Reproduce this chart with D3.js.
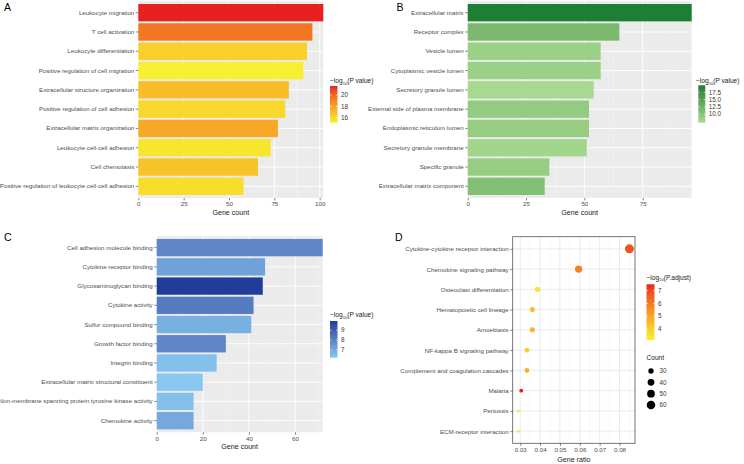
<!DOCTYPE html>
<html><head><meta charset="utf-8">
<script src="https://cdn.jsdelivr.net/npm/d3@7"></script>
<style>html,body{margin:0;padding:0;background:#fff}svg{display:block}text{font-family:"Liberation Sans",Arial,Helvetica,sans-serif}</style>
</head><body>
<svg id="chart" width="744" height="464"></svg>
<script>
// ---- Panel A: GO biological process ----
const bpTerms = ["Leukocyte migration","T cell activation","Leukocyte differentiation","Positive regulation of cell migration","Extracellular structure organization","Positive regulation of cell adhesion","Extracellular matrix organization","Leukocyte cell-cell adhesion","Cell chemotaxis","Positive regulation of leukocyte cell-cell adhesion"];
const bpCount = [102,96,93,91,83,81,77,73,66,58];
const bpLogP = [21.6,19.5,16.3,15.1,17.0,16.0,17.8,15.5,16.8,15.8];
const bpTicks = [0,25,50,75,100];
const bpLegendTicks = [16,18,20];

// ---- Panel B: GO cellular component ----
const ccTerms = ["Extracellular matrix","Receptor complex","Vesicle lumen","Cytoplasmic vesicle lumen","Secretory granule lumen","External side of plasma membrane","Endoplasmic reticulum lumen","Secretory granule membrane","Specific granule","Extracellular matrix component"];
const ccCount = [96,65,57,57,54,52,52,51,35,33];
const ccLogP = [19.9,11.5,8.3,8.3,7.1,9.0,8.8,7.5,8.8,10.8];
const ccTicks = [0,25,50,75];
const ccLegendTicks = [10,12.5,15,17.5];

// ---- Panel C: GO molecular function ----
const mfTerms = ["Cell adhesion molecule binding","Cytokine receptor binding","Glycosaminoglycan binding","Cytokine activity","Sulfur compound binding","Growth factor binding","Integrin binding","Extracellular matrix structural constituent","Non-membrane spanning protein tyrosine kinase activity","Chemokine activity"];
const mfCount = [72,47,46,42,41,30,26,20,16,16];
const mfLogP = [7.9,7.2,9.95,8.2,6.8,7.9,6.4,6.2,6.4,7.0];
const mfTicks = [0,20,40,60];
const mfLegendTicks = [7,8,9];

// ---- Panel D: KEGG ----
const keggTerms = ["Cytokine-cytokine receptor interaction","Chemokine signaling pathway","Osteoclast differentiation","Hematopoietic cell lineage","Amoebiasis","NF-kappa B signaling pathway","Complement and coagulation cascades","Malaria","Pertussis","ECM-receptor interaction"];
const keggRatio = [0.085,0.0594,0.0387,0.0361,0.0361,0.0334,0.0334,0.0305,0.029,0.029];
const keggCount = [66,46,30,28,28,26,26,24,23,23];
const keggLogPadj = [6.8,5.8,3.4,4.4,4.6,4.0,4.8,7.5,3.3,3.14];
const keggTicks = [0.03,0.04,0.05,0.06,0.07,0.08];
const keggLegendTicks = [4,5,6,7];
const keggSizeTicks = [30,40,50,60];

const svg = d3.select("#chart");
const FONT_Y = 6.2, FONT_X = 6.2, FONT_T = 7.1, FONT_L = 6.6;

function legendTitle(g, x, y, label) {
  const t = g.append("text").attr("x", x).attr("y", y).attr("font-size", FONT_L).attr("fill", "#1a1a1a");
  t.append("tspan").text("\u2212log");
  t.append("tspan").text("10").attr("font-size", FONT_L * 0.62).attr("dy", 1.6);
  t.append("tspan").text(label).attr("dy", -1.6);
}

function colorLegend(g, cfg, colorScale, domain, ticks) {
  legendTitle(g, cfg.lx, cfg.ly, cfg.title);
  const id = "grad" + cfg.name;
  const grad = svg.append("defs").append("linearGradient").attr("id", id)
    .attr("x1", 0).attr("y1", 1).attr("x2", 0).attr("y2", 0);
  d3.range(0, 1.0001, 0.05).forEach(t => {
    grad.append("stop").attr("offset", t).attr("stop-color", colorScale(domain[0] + t * (domain[1] - domain[0])));
  });
  g.append("rect").attr("x", cfg.bx).attr("y", cfg.by0).attr("width", cfg.bw).attr("height", cfg.by1 - cfg.by0)
    .attr("fill", `url(#${id})`);
  const ly = d3.scaleLinear().domain(domain).range([cfg.by1, cfg.by0]);
  ticks.forEach(v => {
    g.append("line").attr("x1", cfg.bx).attr("x2", cfg.bx + 1.5).attr("y1", ly(v)).attr("y2", ly(v)).attr("stroke", "#fff").attr("stroke-width", 0.6);
    g.append("line").attr("x1", cfg.bx + cfg.bw - 1.5).attr("x2", cfg.bx + cfg.bw).attr("y1", ly(v)).attr("y2", ly(v)).attr("stroke", "#fff").attr("stroke-width", 0.6);
    g.append("text").attr("x", cfg.bx + cfg.bw + 3.5).attr("y", ly(v)).attr("dy", "0.35em")
      .attr("font-size", FONT_L * 0.95).attr("fill", "#333").text(cfg.fmt ? d3.format(cfg.fmt)(v) : v);
  });
}

function barPanel(cfg, terms, counts, logp, ticks, legendTicks) {
  const g = svg.append("g");
  const x = d3.scaleLinear().domain([0, cfg.xmax]).range([cfg.x0, cfg.x1]);
  const y = d3.scaleBand().domain(terms).range([cfg.y0, cfg.y1]).paddingInner(0.1).paddingOuter(0.15);
  const domain = d3.extent(logp);
  const color = d3.scaleLinear().domain(domain).range([cfg.low, cfg.high]).interpolate(d3.interpolateLab);
  g.append("rect").attr("x", cfg.x0).attr("y", cfg.y0).attr("width", cfg.x1 - cfg.x0).attr("height", cfg.y1 - cfg.y0).attr("fill", "#ebebeb");
  const minor = [];
  for (let i = 0; i < ticks.length; i++) {
    const step = ticks[1] - ticks[0];
    const m = ticks[i] + step / 2;
    if (m < cfg.xmax) minor.push(m);
  }
  g.selectAll(".mg").data(minor).join("line").attr("x1", d => x(d)).attr("x2", d => x(d)).attr("y1", cfg.y0).attr("y2", cfg.y1)
    .attr("stroke", "#f5f5f5").attr("stroke-width", 0.5);
  g.selectAll(".Mg").data(ticks).join("line").attr("x1", d => x(d)).attr("x2", d => x(d)).attr("y1", cfg.y0).attr("y2", cfg.y1)
    .attr("stroke", "#fff").attr("stroke-width", 0.9);
  g.selectAll(".hg").data(terms).join("line").attr("x1", cfg.x0).attr("x2", cfg.x1).attr("y1", d => y(d) + y.bandwidth() / 2).attr("y2", d => y(d) + y.bandwidth() / 2)
    .attr("stroke", "#fff").attr("stroke-width", 0.9);
  g.selectAll(".bar").data(terms).join("rect").attr("x", x(0)).attr("y", d => y(d))
    .attr("width", (d, i) => x(counts[i]) - x(0)).attr("height", y.bandwidth())
    .attr("fill", (d, i) => color(logp[i]));
  const ax = g.append("g").attr("transform", `translate(0,${cfg.y1})`).call(d3.axisBottom(x).tickValues(ticks).tickSize(2.5).tickPadding(1.5));
  const ay = g.append("g").attr("transform", `translate(${cfg.x0},0)`).call(d3.axisLeft(y).tickSize(2.5).tickPadding(1.5));
  [ax, ay].forEach(a => { a.select(".domain").remove(); a.selectAll("line").attr("stroke", "#333").attr("stroke-width", 0.6); });
  ax.selectAll("text").attr("font-size", FONT_X).attr("fill", "#4d4d4d").attr("font-family", null);
  ay.selectAll("text").attr("font-size", FONT_Y).attr("fill", "#4d4d4d").attr("font-family", null);
  g.append("text").attr("x", (cfg.x0 + cfg.x1) / 2).attr("y", cfg.y1 + 17).attr("text-anchor", "middle")
    .attr("font-size", FONT_T).attr("fill", "#1a1a1a").text("Gene count");
  colorLegend(g, cfg, color, domain, legendTicks);
  g.append("text").attr("x", cfg.px).attr("y", cfg.py).attr("font-size", 10.5).attr("fill", "#000").text(cfg.name);
}

barPanel({name: "A", x0: 138.3, x1: 323.3, y0: 1.1, y1: 197.9, xmax: 102, low: "#f7ef2f", high: "#e6211f",
  lx: 330, ly: 83, title: "(P value)", bx: 330, bw: 7.5, by0: 86, by1: 122.7, px: 4, py: 11},
  bpTerms, bpCount, bpLogP, bpTicks, bpLegendTicks);

barPanel({name: "B", x0: 467.7, x1: 691.7, y0: 1.1, y1: 197.9, xmax: 96, low: "#a7d990", high: "#1e7f34",
  lx: 696, ly: 83, title: "(P value)", bx: 698.3, bw: 7, by0: 85.3, by1: 122.7, px: 396.5, py: 11, fmt: ".1f"},
  ccTerms, ccCount, ccLogP, ccTicks, ccLegendTicks);

barPanel({name: "C", x0: 156.7, x1: 322.7, y0: 236.1, y1: 432.2, xmax: 72, low: "#88c8f0", high: "#203e98",
  lx: 330, ly: 317, title: "(P value)", bx: 330, bw: 7.5, by0: 321, by1: 357.7, px: 4, py: 240.5},
  mfTerms, mfCount, mfLogP, mfTicks, mfLegendTicks);

// ---- Panel D dot plot ----
(function () {
  const cfg = {name: "D", x0: 512.7, x1: 635, y0: 236.7, y1: 443.3, low: "#f7ef2f", high: "#e6211f",
    lx: 646.5, ly: 279.5, title: "(P.adjust)", bx: 646.5, bw: 8, by0: 284.3, by1: 340, px: 395, py: 240.5};
  const g = svg.append("g");
  const x = d3.scaleLinear().domain([0.0262, 0.0878]).range([cfg.x0, cfg.x1]);
  const y = d3.scalePoint().domain(keggTerms).range([cfg.y0, cfg.y1]).padding(0.6);
  const domain = d3.extent(keggLogPadj);
  const color = d3.scaleLinear().domain(domain).range([cfg.low, cfg.high]).interpolate(d3.interpolateLab);
  const cext = d3.extent(keggCount);
  const rS = d3.scaleSqrt().domain([0, 1]).range([0, 1]);
  const radius = c => 1.5 + 3 * rS((c - cext[0]) / (cext[1] - cext[0]));
  g.append("rect").attr("x", cfg.x0).attr("y", cfg.y0).attr("width", cfg.x1 - cfg.x0).attr("height", cfg.y1 - cfg.y0).attr("fill", "#fff");
  const minor = keggTicks.map(t => t + 0.005).filter(t => t < 0.0878);
  g.selectAll(".mg").data(minor).join("line").attr("x1", d => x(d)).attr("x2", d => x(d)).attr("y1", cfg.y0).attr("y2", cfg.y1)
    .attr("stroke", "#f0f0f0").attr("stroke-width", 0.5);
  g.selectAll(".Mg").data(keggTicks).join("line").attr("x1", d => x(d)).attr("x2", d => x(d)).attr("y1", cfg.y0).attr("y2", cfg.y1)
    .attr("stroke", "#e6e6e6").attr("stroke-width", 0.8);
  g.selectAll(".hg").data(keggTerms).join("line").attr("x1", cfg.x0).attr("x2", cfg.x1).attr("y1", d => y(d)).attr("y2", d => y(d))
    .attr("stroke", "#e6e6e6").attr("stroke-width", 0.8);
  g.selectAll(".pt").data(keggTerms).join("circle").attr("cx", (d, i) => x(keggRatio[i])).attr("cy", d => y(d))
    .attr("r", (d, i) => radius(keggCount[i])).attr("fill", (d, i) => color(keggLogPadj[i]));
  g.append("rect").attr("x", cfg.x0).attr("y", cfg.y0).attr("width", cfg.x1 - cfg.x0).attr("height", cfg.y1 - cfg.y0)
    .attr("fill", "none").attr("stroke", "#555").attr("stroke-width", 0.8);
  const ax = g.append("g").attr("transform", `translate(0,${cfg.y1})`).call(d3.axisBottom(x).tickValues(keggTicks).tickFormat(d3.format(".2f")).tickSize(2.5).tickPadding(1.5));
  const ay = g.append("g").attr("transform", `translate(${cfg.x0},0)`).call(d3.axisLeft(y).tickSize(2.5).tickPadding(1.5));
  [ax, ay].forEach(a => { a.select(".domain").remove(); a.selectAll("line").attr("stroke", "#333").attr("stroke-width", 0.6); });
  ax.selectAll("text").attr("font-size", FONT_X).attr("fill", "#4d4d4d").attr("font-family", null);
  ay.selectAll("text").attr("font-size", FONT_Y).attr("fill", "#4d4d4d").attr("font-family", null);
  g.append("text").attr("x", (cfg.x0 + cfg.x1) / 2).attr("y", cfg.y1 + 19).attr("text-anchor", "middle")
    .attr("font-size", FONT_T).attr("fill", "#1a1a1a").text("Gene ratio");
  colorLegend(g, cfg, color, domain, keggLegendTicks);
  g.append("text").attr("x", 646.5).attr("y", 360).attr("font-size", FONT_L).attr("fill", "#1a1a1a").text("Count");
  const sy = d3.scalePoint().domain(keggSizeTicks).range([371, 405]);
  keggSizeTicks.forEach(v => {
    g.append("circle").attr("cx", 651).attr("cy", sy(v)).attr("r", radius(v)).attr("fill", "#000");
    g.append("text").attr("x", 659.5).attr("y", sy(v)).attr("dy", "0.35em").attr("font-size", FONT_L * 0.95).attr("fill", "#333").text(v);
  });
  g.append("text").attr("x", cfg.px).attr("y", cfg.py).attr("font-size", 10.5).attr("fill", "#000").text(cfg.name);
})();
</script>
</body></html>
